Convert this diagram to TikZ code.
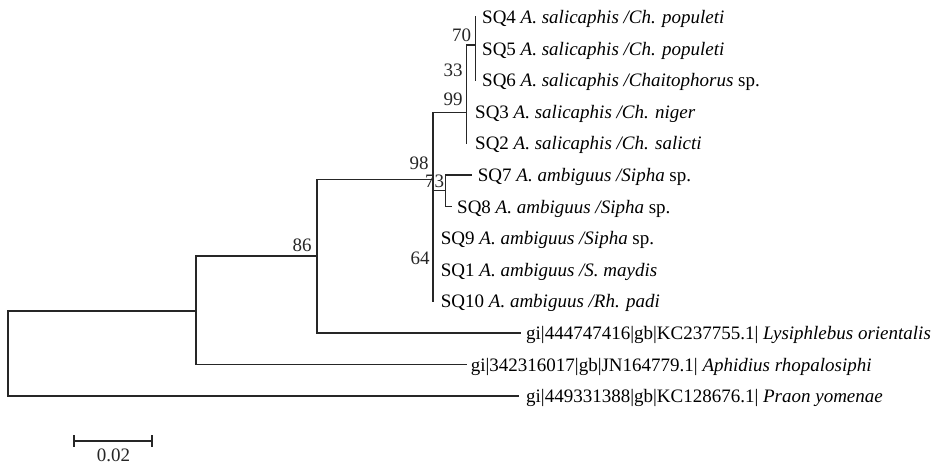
\documentclass[tikz,border=0pt]{standalone}
\usepackage{fontspec}
\setmainfont{Liberation Serif}
\newcommand\treefont{\fontsize{19}{22}\selectfont}
\begin{document}
\begin{tikzpicture}[x=1pt,y=-1pt,
  br/.style={line width=1.5pt, color=black!85, line cap=rect},
  lab/.style={anchor=base west, inner sep=0pt, font=\treefont, yshift=-6.5pt},
  bs/.style={inner sep=0pt, font=\treefont, text=black!85}]
\useasboundingbox (0,0) rectangle (938,465);
% internal nodes
\coordinate (root) at (8,311);
\coordinate (nF) at (196,311);
\coordinate (nE) at (317,256);
\coordinate (nD) at (433,179.3);
\coordinate (nB) at (466.7,112.3);
\coordinate (nA) at (475.7,45);
\coordinate (nC) at (445.7,190.7);
% leaves (branch ends)
\coordinate (SQ4) at (475.7,17);
\coordinate (SQ5) at (475.7,48.6);
\coordinate (SQ6) at (475.7,80.2);
\coordinate (SQ3) at (466.7,111.8);
\coordinate (SQ2) at (466.7,143.4);
\coordinate (SQ7) at (471.7,175);
\coordinate (SQ8) at (451.7,206.6);
\coordinate (SQ9) at (433,238.2);
\coordinate (SQ1) at (433,269.8);
\coordinate (SQ10) at (433,301.4);
\coordinate (Lys) at (520.7,333);
\coordinate (Aph) at (466,364.6);
\coordinate (Pra) at (518,396.2);
% branches
\draw[br] (root) |- (nF);
\draw[br] (root) |- (Pra);
\draw[br] (nF) |- (nE);
\draw[br] (nF) |- (Aph);
\draw[br] (nE) |- (nD);
\draw[br] (nE) |- (Lys);
\draw[br] (nD) |- (nB);
\draw[br] (nD) |- (nC);
\draw[br] (nD) |- (SQ10);
\draw[br] (nB) |- (nA);
\draw[br] (nB) |- (SQ2);
\draw[br] (nA) |- (SQ4);
\draw[br] (nA) |- (SQ6);
\draw[br] (nC) |- (SQ7);
\draw[br] (nC) |- (SQ8);
% leaf labels
\node[lab, xshift=6.3pt] (tSQ4) at (SQ4) {SQ4 \textit{A. salicaphis /Ch. populeti}};
\node[lab, xshift=6.3pt] (tSQ5) at (SQ5) {SQ5 \textit{A. salicaphis /Ch. populeti}};
\node[lab, xshift=6.3pt] (tSQ6) at (SQ6) {SQ6 \textit{A. salicaphis /Chaitophorus} sp.};
\node[lab, xshift=8.3pt] (tSQ3) at (SQ3) {SQ3 \textit{A. salicaphis /Ch. niger}};
\node[lab, xshift=8.3pt] (tSQ2) at (SQ2) {SQ2 \textit{A. salicaphis /Ch. salicti}};
\node[lab, xshift=6pt] (tSQ7) at (SQ7) {SQ7 \textit{A. ambiguus /Sipha} sp.};
\node[lab, xshift=5.3pt] (tSQ8) at (SQ8) {SQ8 \textit{A. ambiguus /Sipha} sp.};
\node[lab, xshift=7.7pt] (tSQ9) at (SQ9) {SQ9 \textit{A. ambiguus /Sipha} sp.};
\node[lab, xshift=7.7pt] (tSQ1) at (SQ1) {SQ1 \textit{A. ambiguus /S. maydis}};
\node[lab, xshift=7.7pt] (tSQ10) at (SQ10) {SQ10 \textit{A. ambiguus /Rh. padi}};
\node[lab, xshift=5.3pt] (tLys) at (Lys) {gi|444747416|gb|KC237755.1| \textit{Lysiphlebus orientalis}};
\node[lab, xshift=4.7pt] (tAph) at (Aph) {gi|342316017|gb|JN164779.1| \textit{Aphidius rhopalosiphi}};
\node[lab, xshift=8pt] (tPra) at (Pra) {gi|449331388|gb|KC128676.1| \textit{Praon yomenae}};
% bootstrap values
\node[bs] (b70) at (461.7,35) {70};
\node[bs] (b33) at (453,70) {33};
\node[bs] (b99) at (453,99) {99};
\node[bs] (b98) at (419,163) {98};
\node[bs] (b73) at (434.5,181) {73};
\node[bs] (b86) at (302,245) {86};
\node[bs] (b64) at (420,258) {64};
% scale bar
\coordinate (sbL) at (74,441);
\coordinate (sbR) at (152,441);
\draw[br, line width=1.2pt] (sbL) -- (sbR);
\draw[br, line width=1.2pt] ([yshift=5pt]sbL) -- ([yshift=-5pt]sbL);
\draw[br, line width=1.2pt] ([yshift=5pt]sbR) -- ([yshift=-5pt]sbR);
\node[bs] (sbt) at (113.5,455) {0.02};
\end{tikzpicture}
\end{document}
